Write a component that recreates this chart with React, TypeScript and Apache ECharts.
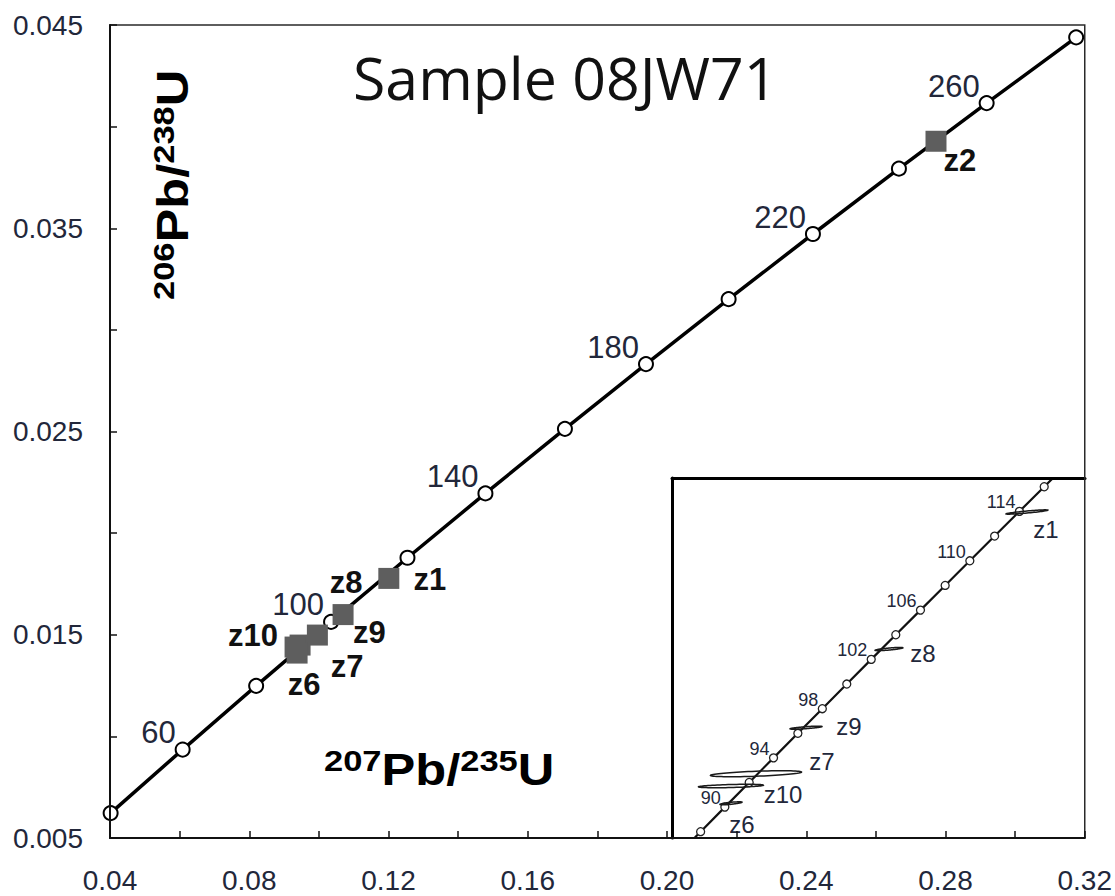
import React, { useEffect, useRef } from 'react';
import * as echarts from 'echarts';

// ---------- main concordia (ages in Ma) ----------
const concordiaAges = [40, 60, 80, 100, 120, 140, 160, 180, 200, 220, 240, 260, 280];
const concordiaX = [0.04018, 0.06087, 0.08198, 0.1035, 0.12545, 0.14784, 0.17068, 0.19396, 0.2177, 0.24192, 0.26662, 0.29182, 0.31753];
const concordiaY = [0.006224, 0.009351, 0.012487, 0.015633, 0.018789, 0.021955, 0.025131, 0.028316, 0.031511, 0.034717, 0.037932, 0.041157, 0.044392];
const labelledAges = [60, 100, 140, 180, 220, 260];

// ---------- main-plot analyses (filled squares) ----------
const sampleNames = ['z2', 'z1', 'z8', 'z9', 'z7', 'z10', 'z6'];
const sampleX = [0.27727, 0.12009, 0.10695, 0.09957, 0.0946, 0.09316, 0.09374];
const sampleY = [0.03928, 0.017772, 0.015992, 0.014984, 0.014492, 0.014394, 0.014098];

// ---------- inset concordia ----------
const insetAges = [86, 88, 90, 92, 94, 96, 98, 100, 102, 104, 106, 108, 110, 112, 114, 116, 118];
const insetX = [0.08839, 0.09053, 0.09268, 0.09484, 0.097, 0.09916, 0.10133, 0.1035, 0.10567, 0.10785, 0.11004, 0.11223, 0.11442, 0.11662, 0.11882, 0.12102, 0.12323];
const insetY = [0.01343, 0.013745, 0.014059, 0.014374, 0.014689, 0.015003, 0.015318, 0.015633, 0.015949, 0.016264, 0.016579, 0.016895, 0.01721, 0.017526, 0.017842, 0.018157, 0.018473];
const insetLabelledAges = [90, 94, 98, 102, 106, 110, 114];

// ---------- inset error ellipses ----------
const ellipseNames = ['z1', 'z8', 'z9', 'z7', 'z10', 'z6'];
const ellipseX = [0.11949, 0.107245, 0.09988, 0.095443, 0.093225, 0.093225];
const ellipseY = [0.017834, 0.016081, 0.015075, 0.014486, 0.014329, 0.014108];
const ellipseSx = [0.00186, 0.00124, 0.00142, 0.00404, 0.00288, 0.00098];
const ellipseSy = [0.0000275, 0.0000205, 0.0000195, 0.0000384, 0.000022, 0.000019];
const ellipseRho = [0.88, 0.78, 0.76, 0.55, 0.49, 0.74];

// ---------- axes ----------
const xMin = 0.04, xMax = 0.32, xStep = 0.02;
const yMin = 0.005, yMax = 0.045, yStep = 0.005;
const insetXRange = [0.08799, 0.12464];
const insetYRange = [0.013664, 0.018269];

// label placement (pixels) – layout only
const sampleLabelOffset: Record<string, [number, number]> = {
  z2: [24, 19], z1: [41, 1], z8: [3, -32], z9: [52, -3], z7: [47, 21], z10: [-42, -12], z6: [7, 31],
};
const ellipseLabelOffset: Record<string, [number, number]> = {
  z1: [19, 17], z8: [34, 4], z9: [43, -1], z7: [66, -12], z10: [52, 8], z6: [11, 21],
};

const FONT = 'Liberation Sans, Arial, sans-serif';
const TXT = '#22273a';

const titleRich = {
  m: { fontSize: 44, fontWeight: 'bold', fontFamily: FONT, lineHeight: 48, fill: '#000' },
  s: { fontSize: 30, fontWeight: 'bold', fontFamily: FONT, lineHeight: 28, verticalAlign: 'top', fill: '#000' },
};

export default function App() {
  const ref = useRef<HTMLDivElement>(null);
  useEffect(() => {
    document.body.style.margin = '0';
    const chart = echarts.init(ref.current!, null, { renderer: 'svg' });

    const mainPts = concordiaX.map((x, i) => [x, concordiaY[i]]);
    const mainLabelPts = concordiaAges
      .map((a, i) => [concordiaX[i], concordiaY[i], a])
      .filter((p) => labelledAges.includes(p[2]));
    const insetPts = insetX.map((x, i) => [x, insetY[i]]);
    const insetLabelPts = insetAges
      .map((a, i) => [insetX[i], insetY[i], a])
      .filter((p) => insetLabelledAges.includes(p[2]));

    const option: any = {
      animation: false,
      grid: [
        { left: 110, top: 25, width: 975, height: 813, show: true, borderColor: '#2a2a2a', borderWidth: 1.5, z: 6, backgroundColor: 'transparent' },
        { left: 672, top: 478, width: 413, height: 360, show: true, borderWidth: 0, backgroundColor: '#fff', z: 1 },
      ],
      xAxis: [
        {
          type: 'value', gridIndex: 0, min: xMin, max: xMax, interval: xStep, z: 6,
          axisLine: { onZero: false, lineStyle: { color: '#111', width: 2 } },
          axisTick: { inside: true, length: 7, lineStyle: { color: '#111', width: 1.5 } },
          splitLine: { show: false },
          axisLabel: {
            margin: 28, fontSize: 28, fontFamily: FONT, color: TXT,
            formatter: (v: number) => (Math.round(v * 100) % 4 === 0 ? v.toFixed(2) : ''),
          },
        },
        {
          type: 'value', gridIndex: 1, min: insetXRange[0], max: insetXRange[1], position: 'top', z: 5,
          axisLine: { onZero: false, lineStyle: { color: '#000', width: 3 } },
          axisTick: { show: false }, axisLabel: { show: false }, splitLine: { show: false },
        },
      ],
      yAxis: [
        {
          type: 'value', gridIndex: 0, min: yMin, max: yMax, interval: yStep, z: 6,
          axisLine: { onZero: false, lineStyle: { color: '#111', width: 2 } },
          axisTick: { inside: true, length: 7, lineStyle: { color: '#111', width: 1.5 } },
          splitLine: { show: false },
          axisLabel: {
            margin: 27, fontSize: 28, fontFamily: FONT, color: TXT,
            formatter: (v: number) => (Math.round(v * 1000) % 10 === 5 ? v.toFixed(3) : ''),
          },
        },
        {
          type: 'value', gridIndex: 1, min: insetYRange[0], max: insetYRange[1], position: 'left', z: 5,
          axisLine: { onZero: false, lineStyle: { color: '#000', width: 3 } },
          axisTick: { show: false }, axisLabel: { show: false }, splitLine: { show: false },
        },
      ],
      series: [
        {
          type: 'line', xAxisIndex: 0, yAxisIndex: 0, data: mainPts, z: 3,
          symbol: 'circle', symbolSize: 14, showAllSymbol: true, clip: false,
          lineStyle: { color: '#000', width: 3.5 },
          itemStyle: { color: '#fff', borderColor: '#000', borderWidth: 2 },
        },
        {
          type: 'scatter', xAxisIndex: 0, yAxisIndex: 0, data: mainLabelPts, z: 4, silent: true,
          symbolSize: 14, itemStyle: { color: 'transparent', opacity: 1 },
          label: {
            show: true, position: 'inside', align: 'right', verticalAlign: 'middle', offset: [-7, -17],
            formatter: (p: any) => String(p.value[2]), fontSize: 31, fontFamily: FONT, color: TXT,
          },
        },
        {
          type: 'scatter', xAxisIndex: 0, yAxisIndex: 0, z: 4, silent: true,
          symbol: 'rect', symbolSize: 21, itemStyle: { color: '#5e5e5e', opacity: 1 },
          data: sampleNames.map((n, i) => ({
            name: n, value: [sampleX[i], sampleY[i]],
            label: { offset: sampleLabelOffset[n] },
          })),
          label: {
            show: true, position: 'inside', align: 'center', verticalAlign: 'middle',
            formatter: (p: any) => p.name, fontSize: 31, fontWeight: 'bold', fontFamily: FONT, color: '#111',
          },
        },
        {
          type: 'line', xAxisIndex: 1, yAxisIndex: 1, data: insetPts, z: 3,
          symbol: 'circle', symbolSize: 8, showAllSymbol: true, clip: true,
          lineStyle: { color: '#111', width: 2.2 },
          itemStyle: { color: '#fff', borderColor: '#222', borderWidth: 1.3 },
        },
        {
          type: 'scatter', xAxisIndex: 1, yAxisIndex: 1, data: insetLabelPts, z: 4, silent: true,
          symbolSize: 8, itemStyle: { color: 'transparent', opacity: 1 },
          label: {
            show: true, position: 'inside', align: 'right', verticalAlign: 'middle', offset: [-4, -9],
            formatter: (p: any) => String(p.value[2]), fontSize: 18, fontFamily: FONT, color: TXT,
          },
        },
        {
          type: 'custom', xAxisIndex: 1, yAxisIndex: 1, z: 4, silent: true,
          data: ellipseNames.map((n, i) => [ellipseX[i], ellipseY[i], ellipseSx[i], ellipseSy[i], ellipseRho[i]]),
          renderItem: (params: any, api: any) => {
            const cx = api.value(0), cy = api.value(1), sx = api.value(2), sy = api.value(3), r = api.value(4);
            const pts: number[][] = [];
            const k = Math.sqrt(1 - r * r);
            for (let j = 0; j <= 72; j++) {
              const t = (j / 72) * Math.PI * 2;
              pts.push(api.coord([cx + sx * Math.cos(t), cy + sy * (r * Math.cos(t) + k * Math.sin(t))]));
            }
            return { type: 'polygon', shape: { points: pts }, style: { fill: 'none', stroke: '#1a1a1a', lineWidth: 1.5 } };
          },
        },
        {
          type: 'scatter', xAxisIndex: 1, yAxisIndex: 1, z: 4, silent: true,
          symbolSize: 2, itemStyle: { color: 'transparent', opacity: 1 },
          data: ellipseNames.map((n, i) => ({
            name: n, value: [ellipseX[i], ellipseY[i]], label: { offset: ellipseLabelOffset[n] },
          })),
          label: {
            show: true, position: 'inside', align: 'center', verticalAlign: 'middle',
            formatter: (p: any) => p.name, fontSize: 24, fontFamily: FONT, color: TXT,
          },
        },
      ],
      graphic: [
        {
          type: 'text', x: 353, y: 77, z: 10,
          style: { text: 'Sample 08JW71', fontSize: 59, fontFamily: 'Open Sans, Noto Sans, sans-serif', fill: '#111', align: 'left', verticalAlign: 'middle' },
        },
        {
          type: 'text', x: 324, y: 770, z: 10, scaleX: 1.15,
          style: { text: '{s|207}{m|Pb/}{s|235}{m|U}', align: 'left', verticalAlign: 'middle', fill: '#000', rich: titleRich },
        },
        {
          type: 'text', x: 173, y: 300, z: 10, rotation: Math.PI / 2, scaleX: 1.15,
          style: { text: '{s|206}{m|Pb/}{s|238}{m|U}', align: 'left', verticalAlign: 'middle', fill: '#000', rich: titleRich },
        },
      ],
    };
    chart.setOption(option);
    return () => chart.dispose();
  }, []);
  return <div ref={ref} style={{ width: 1115, height: 896 }} />;
}
